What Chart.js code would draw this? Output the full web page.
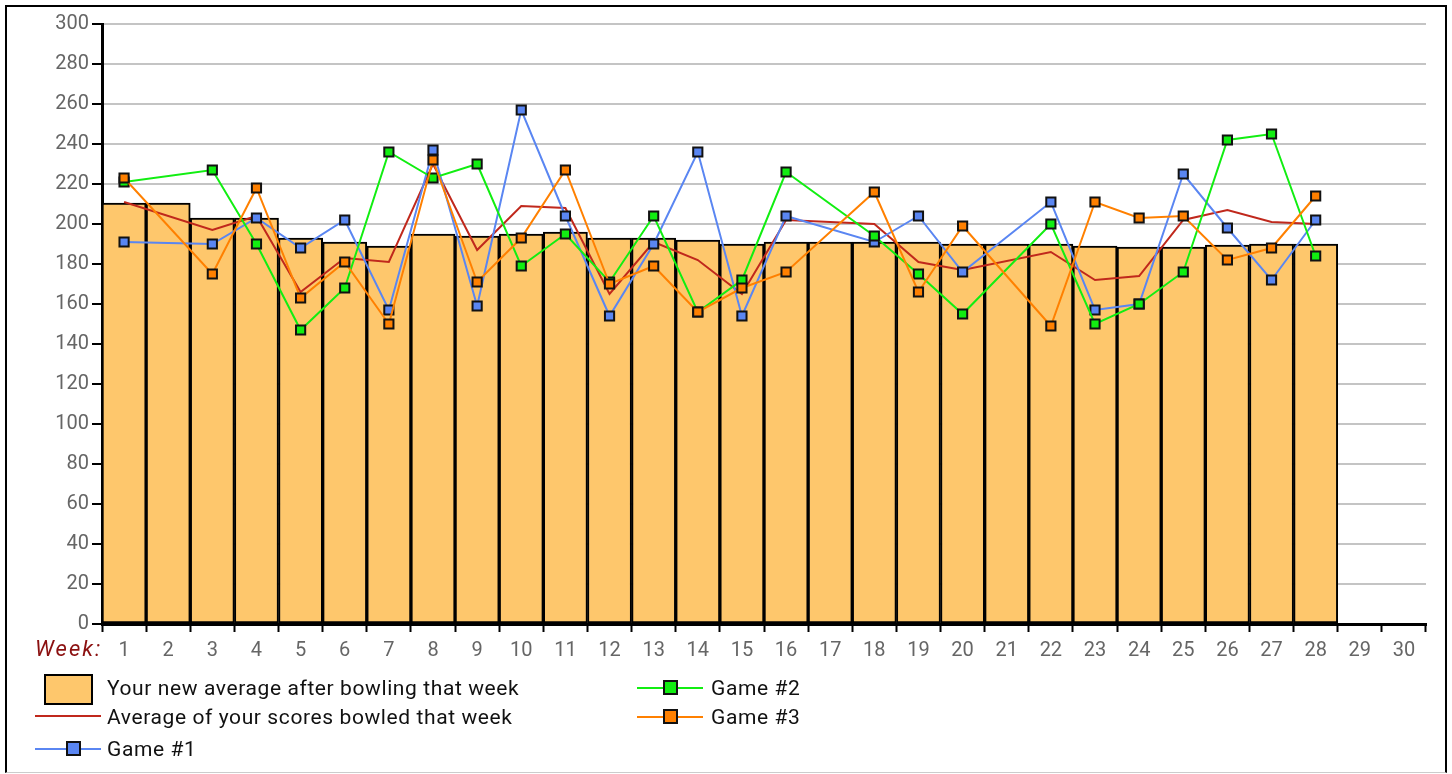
<!DOCTYPE html>
<html>
<head>
<meta charset="utf-8">
<script src="https://cdn.jsdelivr.net/npm/chart.js@4/dist/chart.umd.min.js"></script>
<style>
  html, body { margin: 0; padding: 0; background: #fff; }
  body { width: 1452px; height: 774px; position: relative; overflow: hidden; font-family: Roboto, sans-serif; }
  #frame { position: absolute; left: 5px; top: 5px; width: 1442px; height: 768px; box-sizing: border-box;
           border: 2px solid #000; border-bottom: 1px solid #ccc; }
  #chart { position: absolute; left: 0; top: 0; }
  .lg { position: absolute; font-size: 21px; letter-spacing: 0.6px; color: #111; line-height: 24px; white-space: nowrap; }
  .box { position: absolute; width: 45px; height: 27px; border: 2px solid #000; background: #fec76c; }
  .ln { position: absolute; height: 2px; width: 66px; }
  .mk { position: absolute; width: 11px; height: 11px; border: 2px solid #111; }
</style>
</head>
<body>
<div id="frame"></div>
<canvas id="chart" width="1452" height="774"></canvas>
<div id="legend"></div>
<script>
const weeks = ['1','2','3','4','5','6','7','8','9','10','11','12','13','14','15',
               '16','17','18','19','20','21','22','23','24','25','26','27','28','29','30'];

// running average after each week
const newAverage = [210.5, 210.5, 203, 203, 193, 191, 189, 195, 194, 195, 196, 193, 193, 192, 190,
                    191, 191, 191, 191, 190, 190, 190, 189, 188.5, 188.5, 189.5, 190, 190, null, null];

// average of the three games bowled that week
const weekAverage = [211, null, 197, 204, 166, 183, 181, 230, 187, 209, 208, 165, 191, 182, 165,
                     202, null, 200, 181, 177, null, 186, 172, 174, 202, 207, 201, 200, null, null];

const game1 = [191, null, 190, 203, 188, 202, 157, 237, 159, 257, 204, 154, 190, 236, 154,
               204, null, 191, 204, 176, null, 211, 157, 160, 225, 198, 172, 202, null, null];
const game2 = [221, null, 227, 190, 147, 168, 236, 223, 230, 179, 195, 171, 204, 156, 172,
               226, null, 194, 175, 155, null, 200, 150, 160, 176, 242, 245, 184, null, null];
const game3 = [223, null, 175, 218, 163, 181, 150, 232, 171, 193, 227, 170, 179, 156, 168,
               176, null, 216, 166, 199, null, 149, 211, 203, 204, 182, 188, 214, null, null];

const yTicks = [0, 20, 40, 60, 80, 100, 120, 140, 160, 180, 200, 220, 240, 260, 280, 300];

const weekLabel = {
  id: 'weekLabel',
  afterDraw(chart) {
    const ctx = chart.ctx;
    ctx.save();
    ctx.font = 'italic 22px Roboto, sans-serif';
    ctx.letterSpacing = '2px';
    ctx.fillStyle = '#8b1010';
    ctx.textAlign = 'left';
    ctx.textBaseline = 'middle';
    ctx.fillText('Week:', 35, 650);
    ctx.restore();
  }
};

function gameLine(label, data, color, order) {
  return {
    type: 'line',
    label,
    data,
    borderColor: color,
    backgroundColor: color,
    borderWidth: 2,
    pointStyle: 'rect',
    pointRadius: 6.5,
    pointHoverRadius: 6.5,
    pointBorderColor: '#111',
    pointBorderWidth: 2,
    spanGaps: true,
    tension: 0,
    order
  };
}

const ctx = document.getElementById('chart').getContext('2d');
new Chart(ctx, {
  data: {
    labels: weeks,
    datasets: [
      {
        type: 'bar',
        label: 'Your new average after bowling that week',
        data: newAverage,
        backgroundColor: '#fec76c',
        borderColor: '#000',
        borderWidth: 2,
        borderSkipped: false,
        barPercentage: 1,
        categoryPercentage: 1,
        order: 5
      },
      {
        type: 'line',
        label: 'Average of your scores bowled that week',
        data: weekAverage,
        borderColor: '#c0281c',
        borderWidth: 2,
        pointRadius: 0,
        pointHoverRadius: 0,
        spanGaps: true,
        tension: 0,
        order: 4
      },
      gameLine('Game #1', game1, '#5a86f2', 3),
      gameLine('Game #2', game2, '#11ee11', 2),
      gameLine('Game #3', game3, '#ff8000', 1)
    ]
  },
  options: {
    responsive: false,
    animation: false,
    layout: { padding: { left: 0, right: 26, top: 24, bottom: 100 } },
    scales: {
      x: {
        type: 'category',
        offset: true,
        grid: {
          offset: true,
          drawOnChartArea: false,
          drawTicks: true,
          tickLength: 8,
          tickColor: '#000',
          tickWidth: 2
        },
        border: { display: true, color: '#000', width: 3 },
        ticks: { color: '#666', font: { size: 20, family: 'Roboto' }, padding: 7, maxRotation: 0, autoSkip: false },
        afterFit(scale) { scale.height = 50; }
      },
      y: {
        min: 0,
        max: 300,
        afterBuildTicks(scale) { scale.ticks = yTicks.map(v => ({ value: v })); },
        grid: {
          color: '#c4c4c4',
          lineWidth: 2,
          tickColor: '#000',
          tickWidth: 2,
          tickLength: 10
        },
        border: { display: true, color: '#000', width: 3 },
        ticks: { color: '#666', font: { size: 20, family: 'Roboto' }, padding: 3 },
        afterFit(scale) { scale.width = 102; }
      }
    },
    plugins: {
      legend: { display: false },
      tooltip: { enabled: false }
    }
  },
  plugins: [weekLabel]
});

// legend laid out in two columns like the original
const legend = document.getElementById('legend');
legend.innerHTML = `
  <div class="box" style="left:44px;top:674px;"></div>
  <div class="lg" style="left:107px;top:676px;">Your new average after bowling that week</div>
  <div class="ln" style="left:35px;top:715px;background:#c0281c;"></div>
  <div class="lg" style="left:107px;top:705px;">Average of your scores bowled that week</div>
  <div class="ln" style="left:35px;top:748px;background:#5a86f2;"></div>
  <div class="mk" style="left:66px;top:741px;background:#5a86f2;"></div>
  <div class="lg" style="left:107px;top:737px;">Game #1</div>
  <div class="ln" style="left:637px;top:687px;background:#11ee11;"></div>
  <div class="mk" style="left:663px;top:680px;background:#11ee11;"></div>
  <div class="lg" style="left:711px;top:676px;">Game #2</div>
  <div class="ln" style="left:637px;top:716px;background:#ff8000;"></div>
  <div class="mk" style="left:663px;top:709px;background:#ff8000;"></div>
  <div class="lg" style="left:711px;top:705px;">Game #3</div>
`;
</script>
</body>
</html>
